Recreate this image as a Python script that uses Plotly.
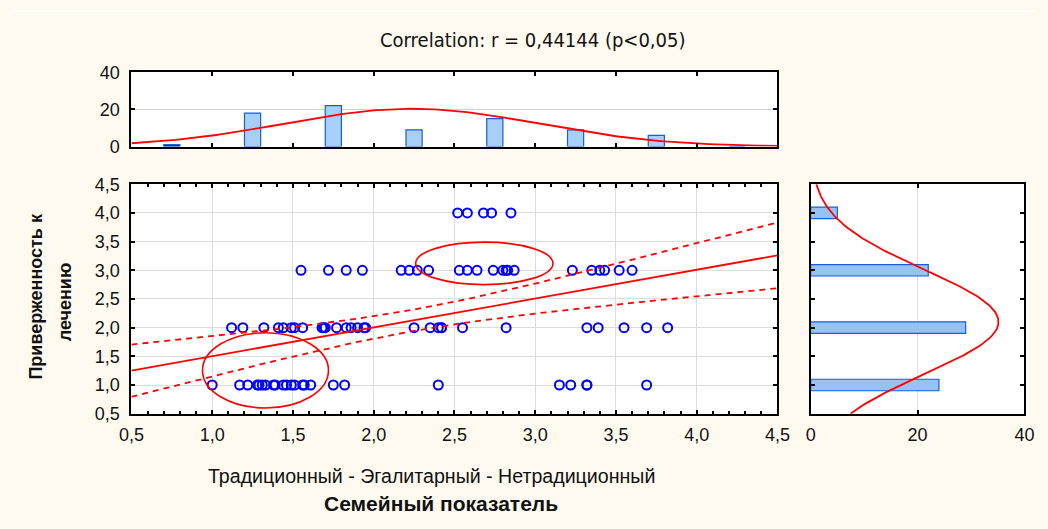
import numpy as np
import plotly.graph_objects as go

# ---- data ----
x_adh4 = [2.52, 2.58, 2.68, 2.73, 2.85]
x_adh3 = [1.55, 1.72, 1.83, 1.93, 2.17, 2.22, 2.27, 2.34, 2.53, 2.58, 2.64, 2.74,
          2.80, 2.82, 2.83, 2.87, 3.23, 3.35, 3.40, 3.43, 3.52, 3.60]
x_adh2 = [1.12, 1.19, 1.32, 1.41, 1.44, 1.49, 1.51, 1.56, 1.68, 1.69, 1.70, 1.77,
          1.83, 1.86, 1.90, 1.94, 1.95, 2.25, 2.35, 2.40, 2.42, 2.42, 2.55, 2.82,
          3.32, 3.39, 3.55, 3.69, 3.82]
x_adh1 = [1.00, 1.17, 1.22, 1.28, 1.29, 1.31, 1.33, 1.38, 1.39, 1.44, 1.46, 1.49,
          1.51, 1.56, 1.57, 1.61, 1.75, 1.82, 2.40, 3.15, 3.22, 3.32, 3.32, 3.69]

family_score = x_adh4 + x_adh3 + x_adh2 + x_adh1
adherence = [4] * len(x_adh4) + [3] * len(x_adh3) + [2] * len(x_adh2) + [1] * len(x_adh1)

# regression line (value at x=0.5 and x=4.5)
reg_x_ends = [0.5, 4.5]
reg_y_ends = [1.25, 3.26]

# top histogram (family score)
hist_x_centers = [0.75, 1.25, 1.75, 2.25, 2.75, 3.25, 3.75, 4.25]
hist_x_counts = [1, 18, 22, 9, 15, 9, 6, 0]
hist_x_binwidth = 0.5
# right histogram (adherence)
hist_y_levels = [1, 2, 3, 4]
hist_y_counts = [24, 29, 22, 5]
hist_y_binwidth = 1.0

# highlighted regions (x0, x1, y0, y1)
ellipse_low = [0.94, 1.72, 0.60, 1.91]
ellipse_high = [2.26, 3.11, 2.75, 3.49]

title_text = "Correlation: r = 0,44144 (p<0,05)"
x_title = "Семейный показатель"
x_subtitle = "Традиционный - Эгалитарный - Нетрадиционный"
y_title_lines = ["Приверженность к", "лечению"]

# ---- derived fits ----
xs = np.array(family_score)
ys = np.array(adherence, dtype=float)
n = len(xs)
xbar = xs.mean()
sxx = ((xs - xbar) ** 2).sum()
slope = (reg_y_ends[1] - reg_y_ends[0]) / (reg_x_ends[1] - reg_x_ends[0])
icpt = reg_y_ends[0] - slope * reg_x_ends[0]
resid = ys - (icpt + slope * xs)
s_err = np.sqrt((resid ** 2).sum() / (n - 2))
t_val = 1.9908
xline = np.linspace(reg_x_ends[0], reg_x_ends[1], 81)
yline = icpt + slope * xline
half = t_val * s_err * np.sqrt(1.0 / n + (xline - xbar) ** 2 / sxx)

def normal_curve(grid, data, count, bw):
    m, s = np.mean(data), np.std(data, ddof=1)
    return count * bw * np.exp(-0.5 * ((grid - m) / s) ** 2) / (s * np.sqrt(2 * np.pi))

gx = np.linspace(0.5, 4.5, 161)
nx = normal_curve(gx, xs, n, hist_x_binwidth)
gy = np.linspace(0.5, 4.5, 161)
ny = normal_curve(gy, ys, n, hist_y_binwidth)

# layout helpers: target screen pixel -> paper fraction
W, H = 1048, 529
OFF = 8
KX, KY = 1048 / 1064, 529 / 545
def fx(p): return (p / KX - OFF) / W
def fy(p): return 1 - (p / KY - OFF) / H

RED = "#ff0000"
BLUE = "#0000ff"
FONT = "Liberation Sans, Arial, sans-serif"
CREAM = "#fefaef"

fig = go.Figure()

# main scatter
fig.add_trace(go.Scatter(x=family_score, y=adherence, mode="markers",
                         marker=dict(symbol="circle-open", size=9, color=BLUE,
                                     line=dict(width=2, color=BLUE)),
                         xaxis="x", yaxis="y", showlegend=False))
fig.add_trace(go.Scatter(x=xline, y=yline, mode="lines", line=dict(color=RED, width=1.8),
                         xaxis="x", yaxis="y", showlegend=False))
fig.add_trace(go.Scatter(x=xline, y=yline + half, mode="lines",
                         line=dict(color=RED, width=1.8, dash="6px,5px"),
                         xaxis="x", yaxis="y", showlegend=False))
fig.add_trace(go.Scatter(x=xline, y=yline - half, mode="lines",
                         line=dict(color=RED, width=1.8, dash="6px,5px"),
                         xaxis="x", yaxis="y", showlegend=False))

# top histogram
top_bar_colors = ["#1c2466"] + ["#a8cff7"] * (len(hist_x_counts) - 1)
fig.add_trace(go.Bar(x=hist_x_centers, y=hist_x_counts, width=0.1,
                     marker=dict(color=top_bar_colors, line=dict(color="#1a5fd0", width=1.2)),
                     xaxis="x2", yaxis="y2", showlegend=False))
fig.add_trace(go.Scatter(x=gx, y=nx, mode="lines", line=dict(color=RED, width=1.8),
                         xaxis="x2", yaxis="y2", showlegend=False))

# right histogram
fig.add_trace(go.Bar(y=hist_y_levels, x=hist_y_counts, width=0.2, orientation="h",
                     marker=dict(color="#95c3f6", line=dict(color="#1a5fd0", width=1.2)),
                     xaxis="x3", yaxis="y3", showlegend=False))
fig.add_trace(go.Scatter(x=ny, y=gy, mode="lines", line=dict(color=RED, width=1.8),
                         xaxis="x3", yaxis="y3", showlegend=False))

axis_common = dict(showline=True, linecolor="black", linewidth=2, mirror="allticks",
                   ticks="inside", ticklen=4, tickwidth=2, tickcolor="black",
                   tickfont=dict(family=FONT, size=18, color="#111"),
                   zeroline=False)

main_xd = [fx(127.5), fx(780)]
main_yd = [fy(415), fy(183.5)]

fig.update_layout(
    width=W, height=H, margin=dict(l=0, r=0, t=0, b=0),
    paper_bgcolor=CREAM, plot_bgcolor="white",
    separators=", ",
    barmode="overlay",
    xaxis=dict(domain=main_xd, range=[0.5, 4.5], dtick=0.5, tick0=0.5, tickformat=".1f",
               showgrid=True, gridcolor="#dcdcdc", gridwidth=1, anchor="y",
               minor=dict(dtick=0.1, tick0=0.5, ticks="inside", ticklen=3, tickcolor="black",
                          showgrid=False),
               ticklabelstandoff=4, **axis_common),
    yaxis=dict(domain=main_yd, range=[0.5, 4.5], dtick=0.5, tick0=0.5, tickformat=".1f",
               showgrid=True, gridcolor="#dcdcdc", gridwidth=1, anchor="x",
               ticklabelstandoff=6, **axis_common),
    xaxis2=dict(domain=main_xd, range=[0.5, 4.5], dtick=0.5, tick0=0.5, showticklabels=False,
                showgrid=False, anchor="y2", **axis_common),
    yaxis2=dict(domain=[fy(145.5), fy(70.5)], range=[0, 40], dtick=20, tick0=0,
                showgrid=True, gridcolor="#d0d0d0", anchor="x2",
                ticklabelstandoff=6, **axis_common),
    xaxis3=dict(domain=[fx(813.5), fx(1029.5)], range=[0, 40], dtick=20, tick0=0,
                showgrid=True, gridcolor="#e0e0e0", anchor="y3",
                ticklabelstandoff=4, **axis_common),
    yaxis3=dict(domain=main_yd, range=[0.5, 4.5], dtick=0.5, tick0=0.5, showticklabels=False,
                showgrid=False, anchor="x3", **axis_common),
    shapes=[
        dict(type="rect", xref="paper", yref="paper", x0=0, x1=1, y0=fy(10), y1=1,
             fillcolor="white", line=dict(width=0), layer="above"),
        dict(type="circle", xref="x", yref="y", x0=ellipse_low[0], x1=ellipse_low[1],
             y0=ellipse_low[2], y1=ellipse_low[3], line=dict(color=RED, width=1.6)),
        dict(type="circle", xref="x", yref="y", x0=ellipse_high[0], x1=ellipse_high[1],
             y0=ellipse_high[2], y1=ellipse_high[3], line=dict(color=RED, width=1.6)),
    ],
    annotations=[
        dict(text=title_text, xref="paper", yref="paper", x=fx(533), y=fy(38),
             showarrow=False, xanchor="center", yanchor="middle",
             font=dict(family="DejaVu Sans Condensed, " + FONT, size=20, color="#111")),
        dict(text=x_subtitle, xref="paper", yref="paper", x=fx(430.5), y=fy(478),
             showarrow=False, xanchor="center", yanchor="middle",
             font=dict(family=FONT, size=19.6, color="#111")),
        dict(text="<b>" + x_title + "</b>", xref="paper", yref="paper", x=fx(440), y=fy(506),
             showarrow=False, xanchor="center", yanchor="middle",
             font=dict(family=FONT, size=21, color="#111")),
        dict(text="<b>" + y_title_lines[0] + "</b>", xref="paper", yref="paper", x=fx(31), y=fy(296),
             showarrow=False, xanchor="center", yanchor="middle", textangle=-90,
             font=dict(family=FONT, size=18, color="#111")),
        dict(text="<b>" + y_title_lines[1] + "</b>", xref="paper", yref="paper", x=fx(60), y=fy(302),
             showarrow=False, xanchor="center", yanchor="middle", textangle=-90,
             font=dict(family=FONT, size=18, color="#111")),
    ],
)

fig.write_html("out.html")
